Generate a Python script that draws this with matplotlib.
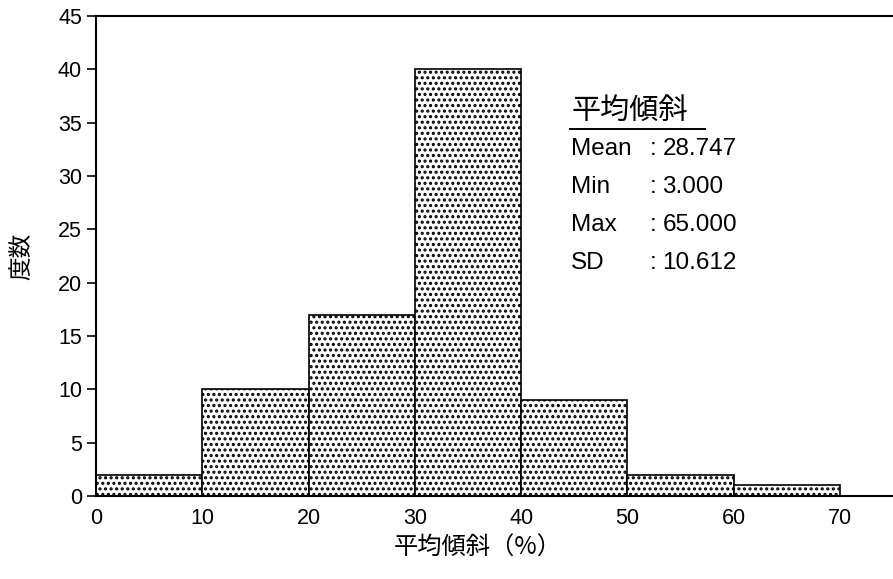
import matplotlib.pyplot as plt
import matplotlib as mpl

# histogram of mean slope, 10% bins
bin_edges = [0, 10, 20, 30, 40, 50, 60, 70]
counts = [2, 10, 17, 40, 9, 2, 1]

stat_names = ['Mean', 'Min', 'Max', 'SD']
stat_values = ['28.747', '3.000', '65.000', '10.612']

jp = ['Noto Sans CJK JP', 'DejaVu Sans']
sans = ['Liberation Sans', 'DejaVu Sans']

mpl.rcParams['hatch.linewidth'] = 1.5

fig = plt.figure(figsize=(8.93, 5.79), dpi=100)
ax = fig.add_axes([0.1075, 0.1434, 0.8925, 0.829])

ax.bar(bin_edges[:-1], counts, width=10, align='edge', facecolor='white',
       edgecolor='black', linewidth=1.2, hatch='...')

ax.set_xlim(0, 75)
ax.set_ylim(0, 45)
ax.set_xticks(range(0, 80, 10))
ax.set_yticks(range(0, 50, 5))
ax.spines['right'].set_visible(False)
for s in ['left', 'top', 'bottom']:
    ax.spines[s].set_linewidth(1.5)
ax.tick_params(axis='y', direction='out', length=6.5, width=1.2, pad=3.5,
               labelsize=15.5, labelfontfamily='Liberation Sans')
ax.tick_params(axis='x', length=0, pad=9,
               labelsize=15.5, labelfontfamily='Liberation Sans')

ax.set_xlabel('平均傾斜（%）', family=jp, fontsize=17.5)
ax.xaxis.set_label_coords(0.479, -0.08)
ax.set_ylabel('度数', family=jp, fontsize=17)
ax.yaxis.set_label_coords(-0.079, 0.5)

# summary of the slope values
ax.text(44.7, 36.1, '平均傾斜', family=jp, fontsize=21, va='center')
ax.plot([44.6, 57.3], [34.4, 34.4], color='black', lw=1.4, clip_on=False)
for i, (n, v) in enumerate(zip(stat_names, stat_values)):
    y = 32.5 - i * 3.55
    ax.text(44.7, y, n, family=sans, fontsize=17.5, va='center')
    ax.text(52.1, y, ':', family=sans, fontsize=17.5, va='center')
    ax.text(53.3, y, v, family=sans, fontsize=17.5, va='center')

plt.savefig('out.png', dpi=100)
